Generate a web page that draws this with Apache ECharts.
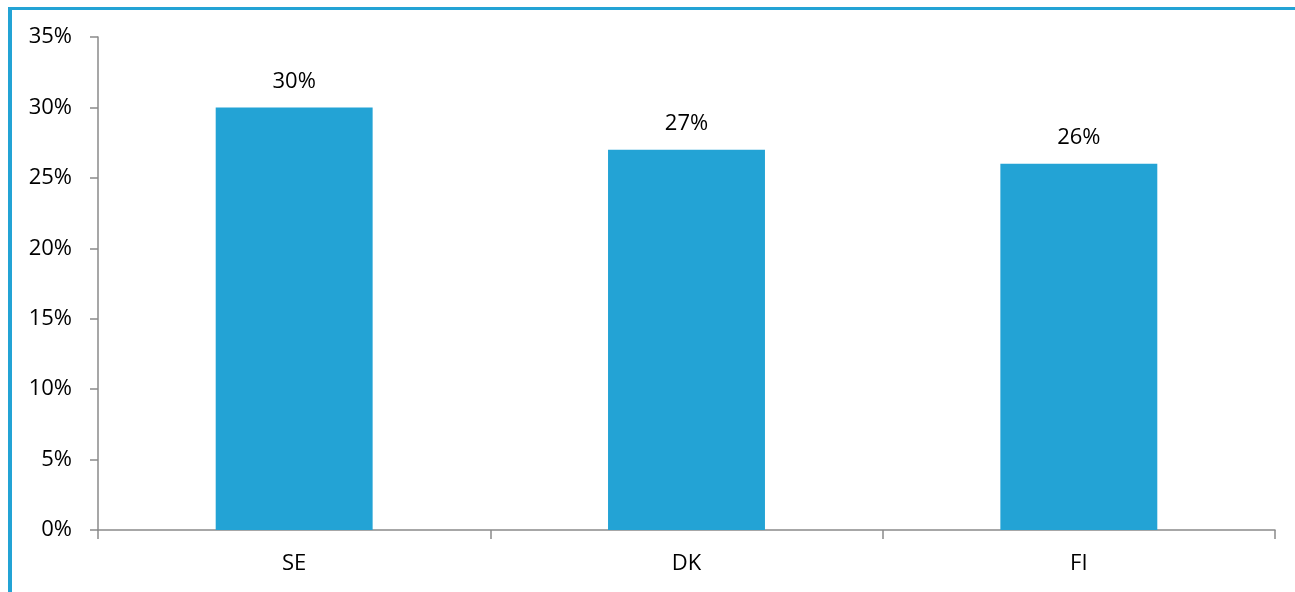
<!DOCTYPE html>
<html>
<head>
<meta charset="utf-8">
<style>
  html, body { margin: 0; padding: 0; background: #fff; }
  #chart { width: 1295px; height: 592px; }
</style>
<script src="https://cdn.jsdelivr.net/npm/echarts@6/dist/echarts.min.js"></script>
</head>
<body>
<div id="chart"></div>
<script>
// Share per country (percent)
const categories = ['SE', 'DK', 'FI'];
const shares = [30, 27, 26];
const yTicks = { min: 0, max: 35, step: 5 };

const BLUE = '#23a3d5';
const AXIS = '#8a8a8a';
const FONT = '"Open Sans", "Liberation Sans", sans-serif';
const FS = 22;

const chart = echarts.init(document.getElementById('chart'), null, { renderer: 'canvas' });
chart.setOption({
  animation: false,
  backgroundColor: '#fff',
  graphic: [
    { type: 'rect', shape: { x: 8, y: 7, width: 1287, height: 3 }, style: { fill: BLUE }, z: 10 },
    { type: 'rect', shape: { x: 8, y: 7, width: 4, height: 585 }, style: { fill: BLUE }, z: 10 }
  ],
  grid: { left: 98, right: 20, top: 37, bottom: 62, containLabel: false },
  xAxis: {
    type: 'category',
    data: categories,
    axisLine: { lineStyle: { color: AXIS, width: 1.5 } },
    axisTick: { show: true, alignWithLabel: false, length: 9, lineStyle: { color: AXIS, width: 1.5 } },
    axisLabel: { color: '#000', fontSize: FS, fontFamily: FONT, margin: 23 }
  },
  yAxis: {
    type: 'value',
    min: yTicks.min, max: yTicks.max, interval: yTicks.step,
    splitLine: { show: false },
    axisLine: { show: true, lineStyle: { color: AXIS, width: 1.5 } },
    axisTick: { show: true, length: 8, lineStyle: { color: AXIS, width: 1.5 } },
    axisLabel: { color: '#000', fontSize: FS, fontFamily: FONT, margin: 26, formatter: '{value}%' }
  },
  series: [{
    type: 'bar',
    data: shares,
    barWidth: '40%',
    itemStyle: { color: BLUE },
    label: {
      show: true, position: 'top', distance: 15,
      color: '#000', fontSize: FS, fontFamily: FONT,
      formatter: p => p.value + '%'
    }
  }]
});
</script>
</body>
</html>
